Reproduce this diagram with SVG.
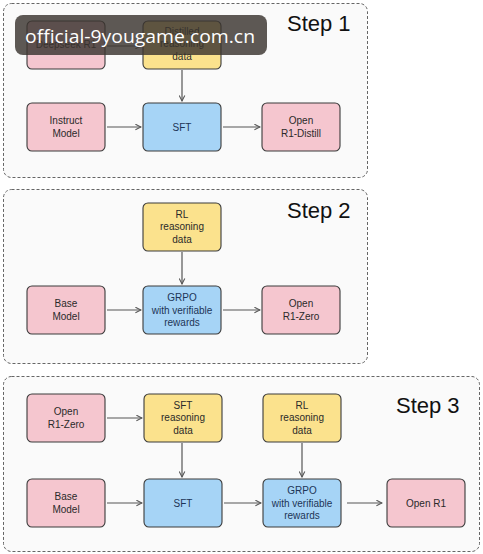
<svg xmlns="http://www.w3.org/2000/svg" width="483" height="554" viewBox="0 0 483 554">
<defs>
<marker id="ah" viewBox="0 0 10 10" refX="9" refY="5" markerWidth="7" markerHeight="7" orient="auto-start-reverse" markerUnits="userSpaceOnUse">
<path d="M1,1 L9,5 L1,9" fill="none" stroke="#555" stroke-width="1.5"/>
</marker>
</defs>
<style>
.frame{fill:#fafafa;stroke:#666;stroke-width:1;stroke-dasharray:3 2}
.box{stroke:#3a3a3a;stroke-width:1.1}
.pink{fill:#f5c6cf}
.yellow{fill:#fbe28d}
.blue{fill:#a6d4f6}
.lbl{font-family:"Liberation Sans",Arial,sans-serif;font-size:10px;fill:#2a2a2a;text-anchor:middle}
.bl{fill:#1d3557}
.step{font-family:"Liberation Sans",Arial,sans-serif;font-size:22px;fill:#111}
.conn line{stroke:#555;stroke-width:1.2;marker-end:url(#ah)}
</style>
<rect width="483" height="554" fill="#ffffff"/>
<g id="frames">
<rect class="frame" x="3.5" y="3.5" width="364" height="174" rx="8"/>
<rect class="frame" x="3.5" y="189.5" width="364" height="174" rx="8"/>
<rect class="frame" x="3.5" y="376.5" width="476" height="175" rx="8"/>
</g>
<text class="step" x="287" y="31">Step 1</text>
<text class="step" x="287" y="218">Step 2</text>
<text class="step" x="396" y="413">Step 3</text>
<g class="conn" id="connectors">
<line x1="182" y1="70" x2="182" y2="101"/>
<line x1="107" y1="127" x2="141" y2="127"/>
<line x1="223" y1="127" x2="260" y2="127"/>
<line x1="182" y1="252" x2="182" y2="284"/>
<line x1="107" y1="310" x2="141" y2="310"/>
<line x1="223" y1="310" x2="260" y2="310"/>
<line x1="107" y1="418" x2="142" y2="418"/>
<line x1="182" y1="443" x2="182" y2="477"/>
<line x1="302" y1="443" x2="302" y2="477"/>
<line x1="107" y1="503" x2="142" y2="503"/>
<line x1="224" y1="503" x2="261" y2="503"/>
<line x1="347" y1="503" x2="382" y2="503"/>
<line x1="107" y1="46" x2="141" y2="46"/>
</g>
<g id="deepseek-r1"><rect class="box pink" x="27" y="21" width="78" height="48" rx="5"/><text class="lbl" x="66" y="48">Deepseek R1</text></g>
<g id="distilled-data"><rect class="box yellow" x="143" y="21" width="78" height="48" rx="5"/><text class="lbl" x="182" y="35">Distilled</text><text class="lbl" x="182" y="47">reasoning</text><text class="lbl" x="182" y="60">data</text></g>
<g id="instruct-model"><rect class="box pink" x="27" y="103" width="78" height="48" rx="5"/><text class="lbl" x="66" y="124">Instruct</text><text class="lbl" x="66" y="137">Model</text></g>
<g id="sft1"><rect class="box blue" x="143" y="103" width="78" height="48" rx="5"/><text class="lbl bl" x="182" y="131">SFT</text></g>
<g id="open-r1-distill"><rect class="box pink" x="262" y="103" width="78" height="48" rx="5"/><text class="lbl" x="301" y="124">Open</text><text class="lbl" x="301" y="137">R1-Distill</text></g>

<g id="rl-data-2"><rect class="box yellow" x="143" y="203" width="78" height="48" rx="5"/><text class="lbl" x="182" y="218">RL</text><text class="lbl" x="182" y="230">reasoning</text><text class="lbl" x="182" y="243">data</text></g>
<g id="base-model-2"><rect class="box pink" x="27" y="286" width="78" height="48" rx="5"/><text class="lbl" x="66" y="307">Base</text><text class="lbl" x="66" y="320">Model</text></g>
<g id="grpo-2"><rect class="box blue" x="143" y="286" width="78" height="48" rx="5"/><text class="lbl bl" x="182" y="301">GRPO</text><text class="lbl bl" x="182" y="314">with verifiable</text><text class="lbl bl" x="182" y="326">rewards</text></g>
<g id="open-r1-zero-2"><rect class="box pink" x="262" y="286" width="78" height="48" rx="5"/><text class="lbl" x="301" y="307">Open</text><text class="lbl" x="301" y="320">R1-Zero</text></g>

<g id="open-r1-zero-3"><rect class="box pink" x="27" y="394" width="78" height="48" rx="5"/><text class="lbl" x="66" y="415">Open</text><text class="lbl" x="66" y="428">R1-Zero</text></g>
<g id="sft-data-3"><rect class="box yellow" x="144" y="394" width="78" height="48" rx="5"/><text class="lbl" x="183" y="409">SFT</text><text class="lbl" x="183" y="421">reasoning</text><text class="lbl" x="183" y="434">data</text></g>
<g id="rl-data-3"><rect class="box yellow" x="263" y="394" width="78" height="48" rx="5"/><text class="lbl" x="302" y="409">RL</text><text class="lbl" x="302" y="421">reasoning</text><text class="lbl" x="302" y="434">data</text></g>
<g id="base-model-3"><rect class="box pink" x="27" y="479" width="78" height="48" rx="5"/><text class="lbl" x="66" y="500">Base</text><text class="lbl" x="66" y="513">Model</text></g>
<g id="sft3"><rect class="box blue" x="144" y="479" width="78" height="48" rx="5"/><text class="lbl bl" x="183" y="507">SFT</text></g>
<g id="grpo-3"><rect class="box blue" x="263" y="479" width="78" height="48" rx="5"/><text class="lbl bl" x="302" y="494">GRPO</text><text class="lbl bl" x="302" y="507">with verifiable</text><text class="lbl bl" x="302" y="519">rewards</text></g>
<g id="open-r1"><rect class="box pink" x="387" y="479" width="78" height="48" rx="5"/><text class="lbl" x="426" y="507">Open R1</text></g>

<g id="watermark">
<rect x="15" y="15" width="252" height="40" rx="8" fill="#3a3530" fill-opacity="0.82"/>
<text x="25" y="43" font-family="'Open Sans','DejaVu Sans',sans-serif" font-size="18" fill="#ffffff" textLength="230" lengthAdjust="spacingAndGlyphs">official-9yougame.com.cn</text>
</g>
</svg>
